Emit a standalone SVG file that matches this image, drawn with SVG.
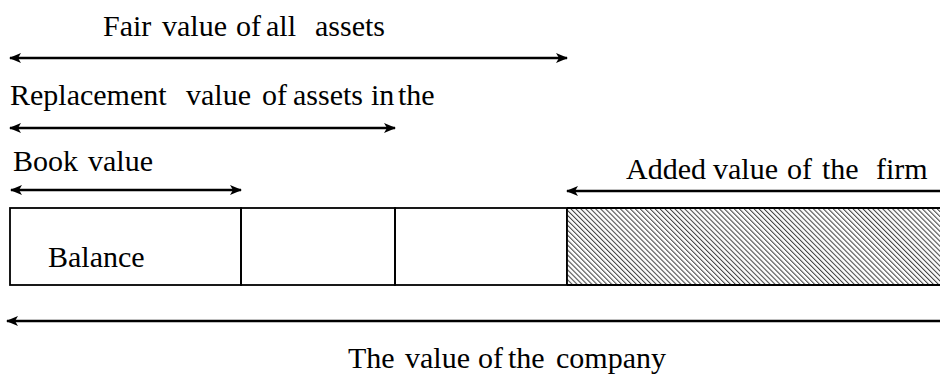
<svg xmlns="http://www.w3.org/2000/svg" width="940" height="381" viewBox="0 0 940 381">
<style>
text{font-family:'Liberation Serif','Times New Roman',Times,serif;font-size:30px;fill:#000}
.arr{stroke:#000;stroke-width:2.5;fill:none}
.box{stroke:#000;stroke-width:1.8;fill:none}
</style>
<defs>
<marker id="ah" viewBox="0 0 12 10" refX="11" refY="5" markerWidth="12" markerHeight="10" markerUnits="userSpaceOnUse" orient="auto-start-reverse">
<path d="M0,0 L12,5 L0,10 L3,5 Z" fill="#000"/>
</marker>
<pattern id="hatch" patternUnits="userSpaceOnUse" width="3.5" height="3.5" patternTransform="rotate(-45)">
<rect width="3.5" height="3.5" fill="#fff"/>
<line x1="0" y1="0" x2="0" y2="3.5" stroke="#444" stroke-width="2.1"/>
</pattern>
</defs>
<g id="fair-label">
<text x="103" y="36">Fair</text><text x="162" y="36">value</text><text x="236" y="36">of</text><text x="266" y="36">all</text><text x="315" y="36">assets</text>
</g>
<g id="replacement-label">
<text x="10" y="105">Replacement</text><text x="186" y="105">value</text><text x="262" y="105">of</text><text x="293" y="105">assets</text><text x="371" y="105">in</text><text x="398" y="105">the</text>
</g>
<g id="book-label">
<text x="13" y="171">Book</text><text x="88" y="171">value</text>
</g>
<g id="added-label">
<text x="626" y="179">Added</text><text x="713" y="179">value</text><text x="787" y="179">of</text><text x="822" y="179">the</text><text x="876" y="179">firm</text>
</g>
<g id="company-label">
<text x="348" y="368">The</text><text x="405" y="368">value</text><text x="478" y="368">of</text><text x="508" y="368">the</text><text x="556" y="368">company</text>
</g>
<g id="balance">
<rect class="box" x="10" y="208" width="231" height="77"/>
<text x="48" y="267">Balance</text>
</g>
<g id="segment2"><rect class="box" x="241" y="208" width="154" height="77"/></g>
<g id="segment3"><rect class="box" x="395" y="208" width="172" height="77"/></g>
<g id="added-value">
<rect x="567" y="208" width="380" height="77" fill="url(#hatch)"/>
<path class="box" d="M567,208 H942 M567,285 H942 M567,208 V285"/>
</g>
<g id="connectors">
<line class="arr" x1="10" y1="58" x2="567" y2="58" marker-start="url(#ah)" marker-end="url(#ah)"/>
<line class="arr" x1="10" y1="128" x2="395" y2="128" marker-start="url(#ah)" marker-end="url(#ah)"/>
<line class="arr" x1="11" y1="190" x2="241" y2="190" marker-start="url(#ah)" marker-end="url(#ah)"/>
<line class="arr" x1="942" y1="191" x2="567" y2="191" marker-end="url(#ah)"/>
<line class="arr" x1="942" y1="321" x2="7" y2="321" marker-end="url(#ah)"/>
</g>
</svg>
